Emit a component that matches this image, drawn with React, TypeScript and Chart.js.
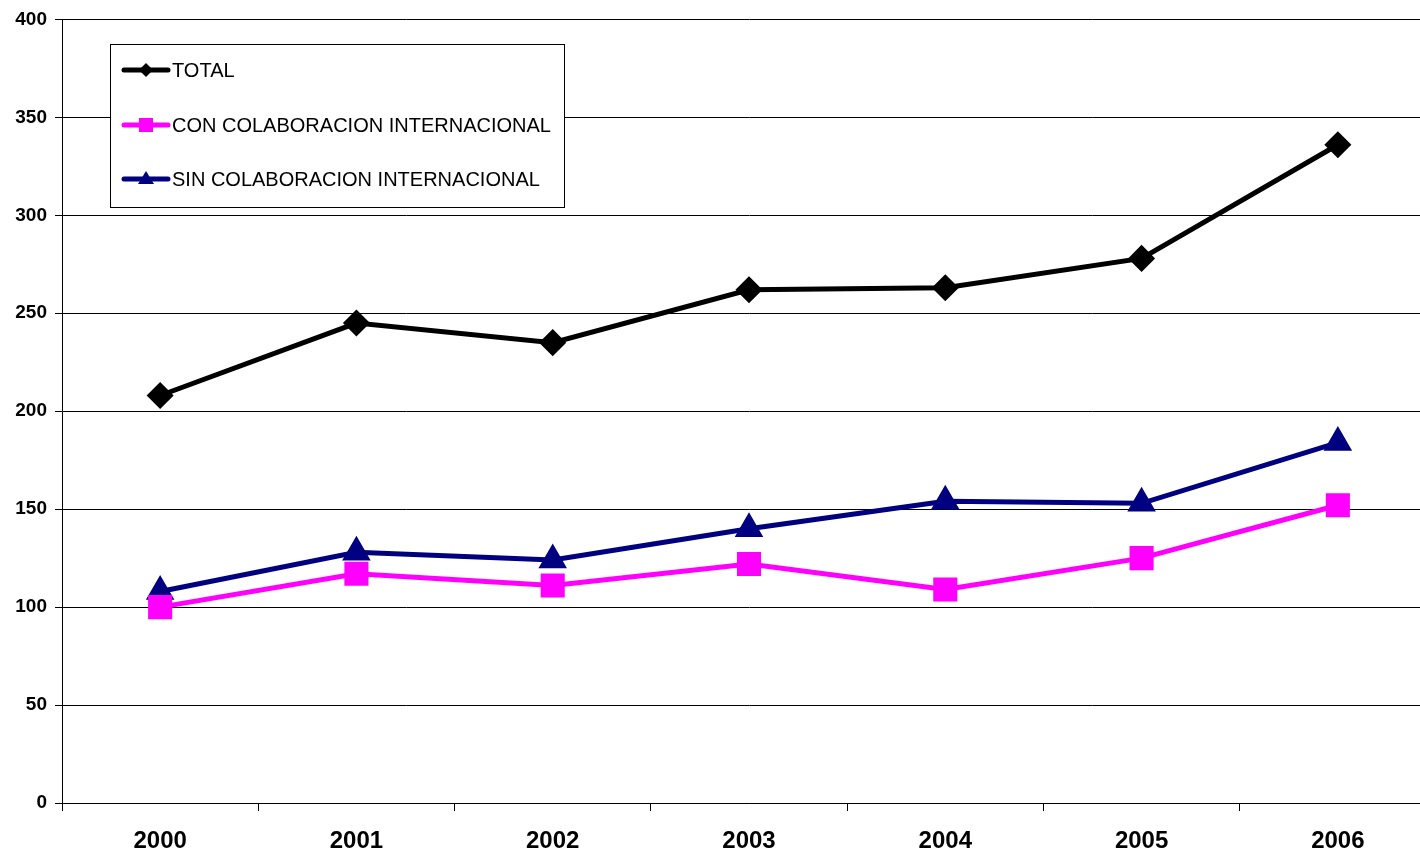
import React, { useEffect, useRef } from "react";
import { Chart, registerables } from "chart.js";

Chart.register(...registerables);

const years = ["2000", "2001", "2002", "2003", "2004", "2005", "2006"];
const totalValues = [208, 245, 235, 262, 263, 278, 336];
const conValues = [100, 117, 111, 122, 109, 125, 152];
const sinValues = [108, 128, 124, 140, 154, 153, 184];
const seriesLabels = ["TOTAL", "CON COLABORACION INTERNACIONAL", "SIN COLABORACION INTERNACIONAL"];

const FONT = "'Liberation Sans', Arial, sans-serif";
const CANVAS_W = 1436;
const CANVAS_H = 853;

const legendPlugin = {
  id: "boxLegend",
  afterDraw(chart: any) {
    const ctx = chart.ctx;
    const x0 = 110, y0 = 44, w = 454, h = 163;
    ctx.save();
    ctx.fillStyle = "#ffffff";
    ctx.fillRect(x0, y0, w, h);
    ctx.strokeStyle = "#000000";
    ctx.lineWidth = 1;
    ctx.strokeRect(x0 + 0.5, y0 + 0.5, w, h);
    const rows = [70, 125, 179];
    chart.data.datasets.forEach((ds: any, i: number) => {
      const y = rows[i];
      ctx.strokeStyle = ds.borderColor;
      ctx.lineWidth = 5;
      ctx.lineCap = "round";
      ctx.beginPath();
      ctx.moveTo(124, y);
      ctx.lineTo(168, y);
      ctx.stroke();
      ctx.fillStyle = ds.pointBackgroundColor;
      const cx = 146;
      ctx.beginPath();
      if (ds.pointStyle === "rectRot") {
        const r = 7;
        ctx.moveTo(cx, y - r);
        ctx.lineTo(cx + r, y);
        ctx.lineTo(cx, y + r);
        ctx.lineTo(cx - r, y);
      } else if (ds.pointStyle === "rect") {
        ctx.rect(cx - 7, y - 7, 14, 14);
      } else {
        ctx.moveTo(cx, y - 8);
        ctx.lineTo(cx + 8, y + 5);
        ctx.lineTo(cx - 8, y + 5);
      }
      ctx.closePath();
      ctx.fill();
      ctx.fillStyle = "#000000";
      ctx.font = `20px ${FONT}`;
      ctx.textBaseline = "middle";
      ctx.textAlign = "left";
      ctx.fillText(ds.label, 172, y + 1);
    });
    ctx.restore();
  },
};

export default function App() {
  const ref = useRef<HTMLCanvasElement>(null);
  useEffect(() => {
    document.body.style.margin = "0";
    document.body.style.overflow = "hidden";
    document.documentElement.style.overflow = "hidden";
    const chart = new Chart(ref.current!, {
      type: "line",
      data: {
        labels: years,
        datasets: [
          {
            label: seriesLabels[0],
            data: totalValues,
            borderColor: "#000000",
            backgroundColor: "#000000",
            pointBackgroundColor: "#000000",
            pointBorderColor: "#000000",
            pointStyle: "rectRot",
            pointRadius: 10,
            borderWidth: 5,
          },
          {
            label: seriesLabels[1],
            data: conValues,
            borderColor: "#ff00ff",
            backgroundColor: "#ff00ff",
            pointBackgroundColor: "#ff00ff",
            pointBorderColor: "#ff00ff",
            pointStyle: "rect",
            pointRadius: 13.5,
            borderWidth: 5,
          },
          {
            label: seriesLabels[2],
            data: sinValues,
            borderColor: "#000080",
            backgroundColor: "#000080",
            pointBackgroundColor: "#000080",
            pointBorderColor: "#000080",
            pointStyle: "triangle",
            pointRadius: 11.5,
            borderWidth: 5,
          },
        ],
      },
      options: {
        animation: false,
        responsive: false,
        maintainAspectRatio: false,
        layout: { autoPadding: false, padding: { top: 19, right: 0, left: 0, bottom: 0 } },
        plugins: { legend: { display: false }, tooltip: { enabled: false } },
        scales: {
          x: {
            offset: true,
            grid: {
              offset: true,
              drawOnChartArea: false,
              drawTicks: true,
              tickLength: 8,
              color: "#000000",
            },
            border: { color: "#000000", width: 1 },
            ticks: {
              color: "#000000",
              font: { family: FONT, size: 24, weight: "bold" },
              padding: 16,
              maxRotation: 0,
            },
            afterFit(scale: any) {
              scale.height = 50;
            },
          },
          y: {
            min: 0,
            max: 400,
            ticks: {
              stepSize: 50,
              color: "#000000",
              font: { family: FONT, size: 19, weight: "bold" },
              padding: 8,
            },
            grid: { color: "#000000", lineWidth: 1, tickLength: 7 },
            border: { color: "#000000", width: 1 },
            afterFit(scale: any) {
              scale.width = 62;
            },
          },
        },
      },
      plugins: [legendPlugin],
    });
    return () => chart.destroy();
  }, []);
  return (
    <div style={{ width: 1420, height: CANVAS_H, overflow: "hidden" }}>
      <canvas ref={ref} width={CANVAS_W} height={CANVAS_H} style={{ display: "block" }} />
    </div>
  );
}
